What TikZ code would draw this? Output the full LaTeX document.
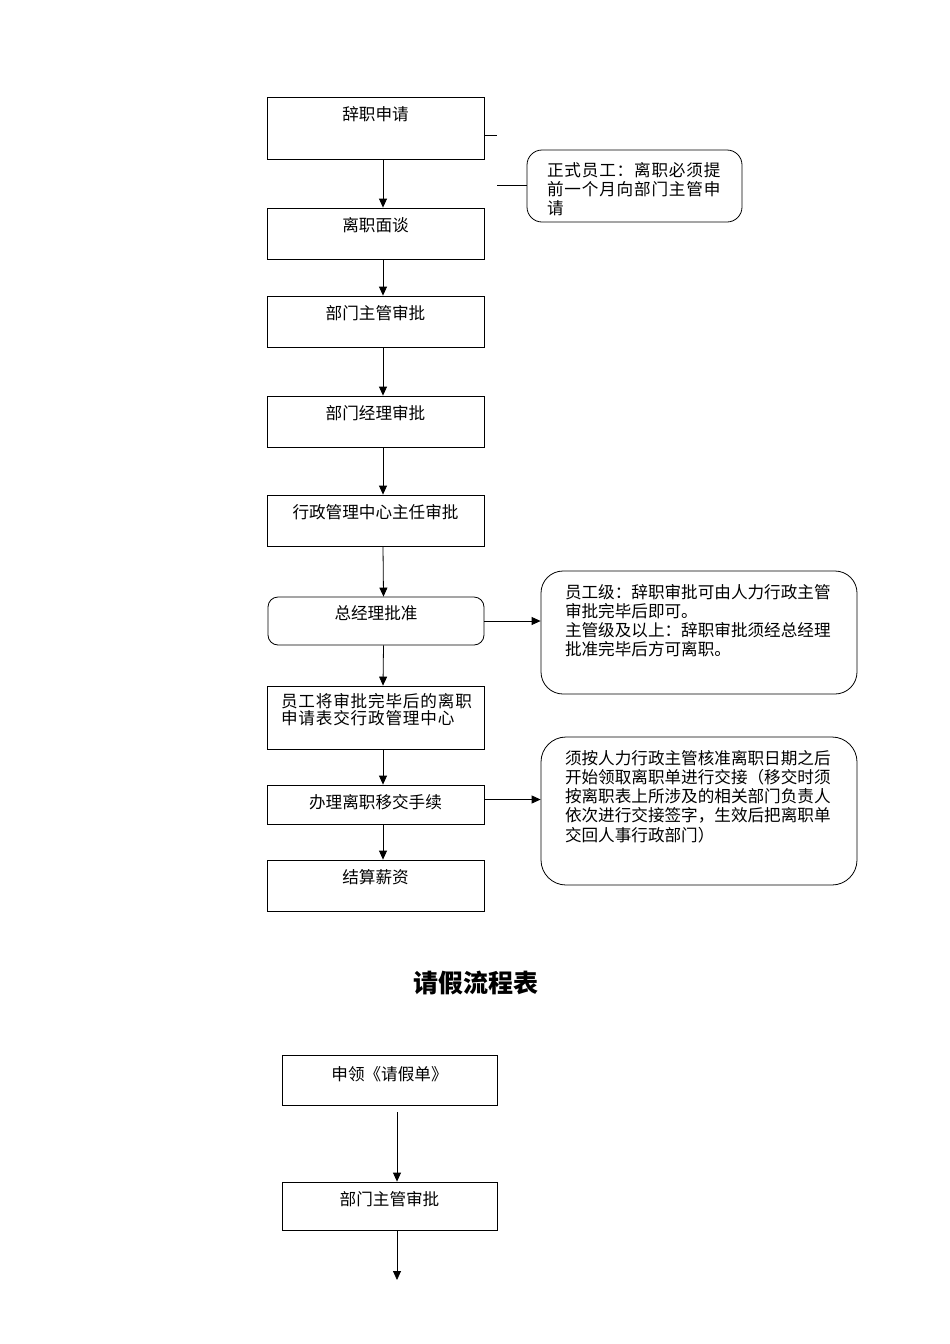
\documentclass[tikz,border=0pt]{standalone}
\usepackage{fontspec}
\usetikzlibrary{arrows.meta}
\newfontfamily\cjk{Noto Sans CJK SC}
\newfontfamily\cjkwide[LetterSpace=5]{Noto Sans CJK SC}
\newcommand{\off}{7.5}

\begin{document}
\begin{tikzpicture}[x=1pt, y=-1pt, line width=0.8pt, >={Triangle[length=9pt, width=8pt]},
        box/.style={draw, minimum width=217pt, inner sep=0pt},
        note/.style={draw, rounded corners=#1, inner sep=0pt},
        txt/.style={anchor=north, inner sep=0pt, yshift=-9pt, font=\cjk\fontsize{16.6}{17}\selectfont},
        ntxt/.style={anchor=north west, inner sep=0pt, align=left, font=\cjk\fontsize{16.6}{19.3}\selectfont},
        wtxt/.style={anchor=north west, inner sep=0pt, align=left, font=\cjkwide\fontsize{16.6}{#1}\selectfont}]
        \useasboundingbox (0, 0) rectangle (950, 1344);

        % resignation flow
        \node[box, minimum height=62pt, label={[txt]north:辞职申请}] (apply) at (375.5, 128) {};
        \node[box, minimum height=51pt, label={[txt]north:离职面谈}] (talk) at (375.5, 233.5) {};
        \node[box, minimum height=51pt, label={[txt]north:部门主管审批}] (super) at (375.5, 321.5) {};
        \node[box, minimum height=51pt, label={[txt]north:部门经理审批}] (manager) at (375.5, 421.5) {};
        \node[box, minimum height=51pt, label={[txt]north:行政管理中心主任审批}] (admin) at (375.5, 520.5) {};
        \node[box, rounded corners=10pt, minimum width=216pt, minimum height=48pt,
              label={[txt]north:总经理批准}] (gm) at (376, 621) {};
        \node[box, minimum height=63pt,
              label={[wtxt=17, xshift=14pt, yshift=-7pt]north west:员工将审批完毕后的离职\\申请表交行政管理中心}] (handin) at (375.5, 717.5) {};
        \node[box, minimum height=39pt, label={[txt]north:办理离职移交手续}] (handover) at (375.5, 804.5) {};
        \node[box, minimum height=51pt, label={[txt]north:结算薪资}] (salary) at (375.5, 885.5) {};

        \foreach \a/\b in {apply/talk, talk/super, super/manager, manager/admin,
                           admin/gm, gm/handin, handin/handover, handover/salary}
            \draw[->] ([xshift=\off]\a.south) -- ([xshift=\off]\b.north);

        % side notes
        \node[note=15pt, minimum width=215pt, minimum height=72pt,
              label={[wtxt=19, xshift=20pt, yshift=-12pt]north west:正式员工：离职必须提\\前一个月向部门主管申\\请}] (note1) at (634.5, 186) {};
        \node[note=22pt, minimum width=316pt, minimum height=123pt,
              label={[ntxt, xshift=24pt, yshift=-13pt]north west:员工级：辞职审批可由人力行政主管\\审批完毕后即可。\\主管级及以上：辞职审批须经总经理\\批准完毕后方可离职。}] (note2) at (699, 632.5) {};
        \node[note=25pt, minimum width=316pt, minimum height=148pt,
              label={[ntxt, xshift=24pt, yshift=-13pt]north west:须按人力行政主管核准离职日期之后\\开始领取离职单进行交接（移交时须\\按离职表上所涉及的相关部门负责人\\依次进行交接签字，生效后把离职单\\交回人事行政部门）}] (note3) at (699, 811) {};

        \coordinate (stubA) at (497, 135);
        \coordinate (stubB) at (497, 185);
        \draw (apply.east |- stubA) -- (stubA);
        \draw (stubB) -- (stubB -| note1.west);
        \draw[->] (gm.east) -- (gm.east -| note2.west);
        \draw[->] ([yshift=5]handover.east) -- ([yshift=5]handover.east -| note3.west);

        % leave flow
        \node[font=\cjk\bfseries\fontsize{25}{30}\selectfont] (title) at (476, 983) {请假流程表};
        \node[box, minimum width=215pt, minimum height=50pt, label={[txt, yshift=-2pt]north:申领《请假单》}] (form) at (389.5, 1080) {};
        \node[box, minimum width=215pt, minimum height=48pt, label={[txt]north:部门主管审批}] (leader) at (389.5, 1206) {};
        \coordinate (next) at (397, 1280);

        \draw[->] ([xshift=\off, yshift=-7]form.south) -- ([xshift=\off]leader.north);
        \draw[->] ([xshift=\off]leader.south) -- (next);
    \end{tikzpicture}
\end{document}
